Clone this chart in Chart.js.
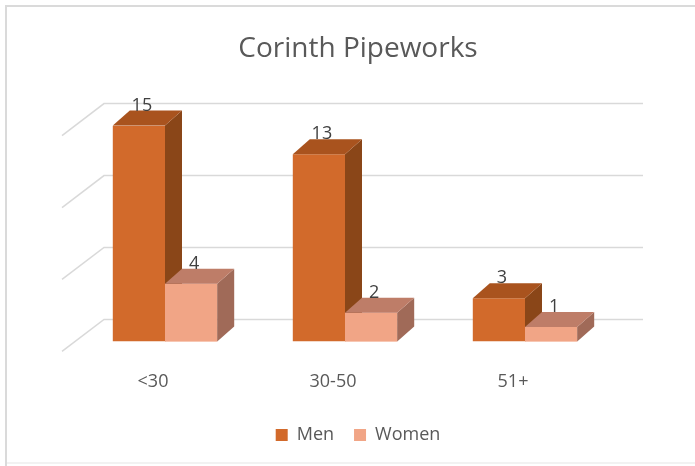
<!DOCTYPE html>
<html>
<head>
<meta charset="utf-8">
<script src="https://cdn.jsdelivr.net/npm/chart.js@4.4.1/dist/chart.umd.min.js"></script>
<style>
html,body{margin:0;padding:0;background:#fff;}
#wrap{width:695px;height:466px;position:relative;}
</style>
</head>
<body>
<div id="wrap"><canvas id="c" width="695" height="466"></canvas></div>
<script>
const categories = ['<30', '30-50', '51+'];
const menValues = [15, 13, 3];
const womenValues = [4, 2, 1];
const seriesNames = ['Men', 'Women'];
const gridValues = [0, 5, 10, 15];
const chartTitle = 'Corinth Pipeworks';

const FONT = "'Open Sans', sans-serif";
const DEPTH_X = 17, DEPTH_Y = -15;

const faceColors = [
  {front: '#D26A2B', top: '#A9531E', side: '#8A4618'},
  {front: '#F1A586', top: '#BE7D68', side: '#A06A58'}
];

const frame = {
  id: 'frame',
  beforeDraw(chart) {
    const ctx = chart.ctx;
    ctx.save();
    ctx.fillStyle = '#fff';
    ctx.fillRect(0, 0, chart.width, chart.height);
    ctx.lineWidth = 2;
    ctx.strokeStyle = '#f2f2f2';
    ctx.beginPath();
    ctx.moveTo(6, 463); ctx.lineTo(chart.width, 463);
    ctx.stroke();
    ctx.strokeStyle = '#dadada';
    ctx.beginPath();
    ctx.moveTo(chart.width, 6); ctx.lineTo(6, 6); ctx.lineTo(6, chart.height);
    ctx.stroke();
    ctx.restore();
  }
};

const walls = {
  id: 'walls',
  beforeDatasetsDraw(chart) {
    const ctx = chart.ctx;
    const ys = chart.scales.y;
    ctx.save();
    ctx.strokeStyle = '#d9d9d9';
    ctx.lineWidth = 1.5;
    gridValues.forEach(v => {
      const yb = ys.getPixelForValue(v);
      ctx.beginPath();
      ctx.moveTo(62, yb + 10);
      ctx.lineTo(104, yb - 22);
      ctx.lineTo(643, yb - 22);
      ctx.stroke();
    });
    ctx.restore();
  }
};

function drawFaces(ctx, el, col) {
  const p = el.getProps(['x', 'y', 'base', 'width'], true);
  const l = p.x - p.width / 2, r = p.x + p.width / 2;
  ctx.fillStyle = col.side;
  ctx.beginPath();
  ctx.moveTo(r, p.y);
  ctx.lineTo(r + DEPTH_X, p.y + DEPTH_Y);
  ctx.lineTo(r + DEPTH_X, p.base + DEPTH_Y);
  ctx.lineTo(r, p.base);
  ctx.closePath();
  ctx.fill();
  ctx.fillStyle = col.top;
  ctx.beginPath();
  ctx.moveTo(l, p.y);
  ctx.lineTo(l + DEPTH_X, p.y + DEPTH_Y);
  ctx.lineTo(r + DEPTH_X, p.y + DEPTH_Y);
  ctx.lineTo(r, p.y);
  ctx.closePath();
  ctx.fill();
}

const bars3d = {
  id: 'bars3d',
  afterDatasetsDraw(chart) {
    const ctx = chart.ctx;
    ctx.save();
    const m0 = chart.getDatasetMeta(0), m1 = chart.getDatasetMeta(1);
    m0.data.forEach(el => drawFaces(ctx, el, faceColors[0]));
    m1.data.forEach(el => el.draw(ctx));
    m1.data.forEach(el => drawFaces(ctx, el, faceColors[1]));
    ctx.fillStyle = '#404040';
    ctx.font = '18px ' + FONT;
    ctx.textAlign = 'center';
    ctx.textBaseline = 'alphabetic';
    chart.data.datasets.forEach((ds, i) => {
      chart.getDatasetMeta(i).data.forEach((el, j) => {
        const p = el.getProps(['x', 'y'], true);
        ctx.fillText(String(ds.data[j]), p.x + 3, p.y + DEPTH_Y);
      });
    });
    ctx.restore();
  }
};

new Chart(document.getElementById('c'), {
  type: 'bar',
  data: {
    labels: categories,
    datasets: [
      {label: seriesNames[0], data: menValues, backgroundColor: faceColors[0].front},
      {label: seriesNames[1], data: womenValues, backgroundColor: faceColors[1].front}
    ]
  },
  options: {
    responsive: false,
    animation: false,
    events: [],
    layout: {padding: {left: 75, right: 54, top: 0, bottom: 12}},
    datasets: {bar: {categoryPercentage: 0.58, barPercentage: 1.0}},
    scales: {
      x: {
        grid: {display: false, drawTicks: false},
        border: {display: false},
        ticks: {color: '#595959', font: {family: FONT, size: 18}, padding: 30, labelOffset: -12},
        afterFit(scale) { scale.height -= 17; }
      },
      y: {
        position: 'right', min: 0, max: 15,
        grid: {display: false, drawTicks: false},
        border: {display: false},
        ticks: {display: false},
        afterFit(scale) { scale.width = 26; }
      }
    },
    plugins: {
      title: {
        display: true, text: chartTitle, color: '#595959',
        font: {family: FONT, size: 28, weight: 'normal'},
        padding: {top: 32, bottom: 60}
      },
      legend: {
        position: 'bottom',
        labels: {color: '#595959', font: {family: FONT, size: 18}, boxWidth: 12, boxHeight: 12, padding: 20}
      },
      tooltip: {enabled: false}
    }
  },
  plugins: [frame, walls, bars3d]
});
</script>
</body>
</html>
